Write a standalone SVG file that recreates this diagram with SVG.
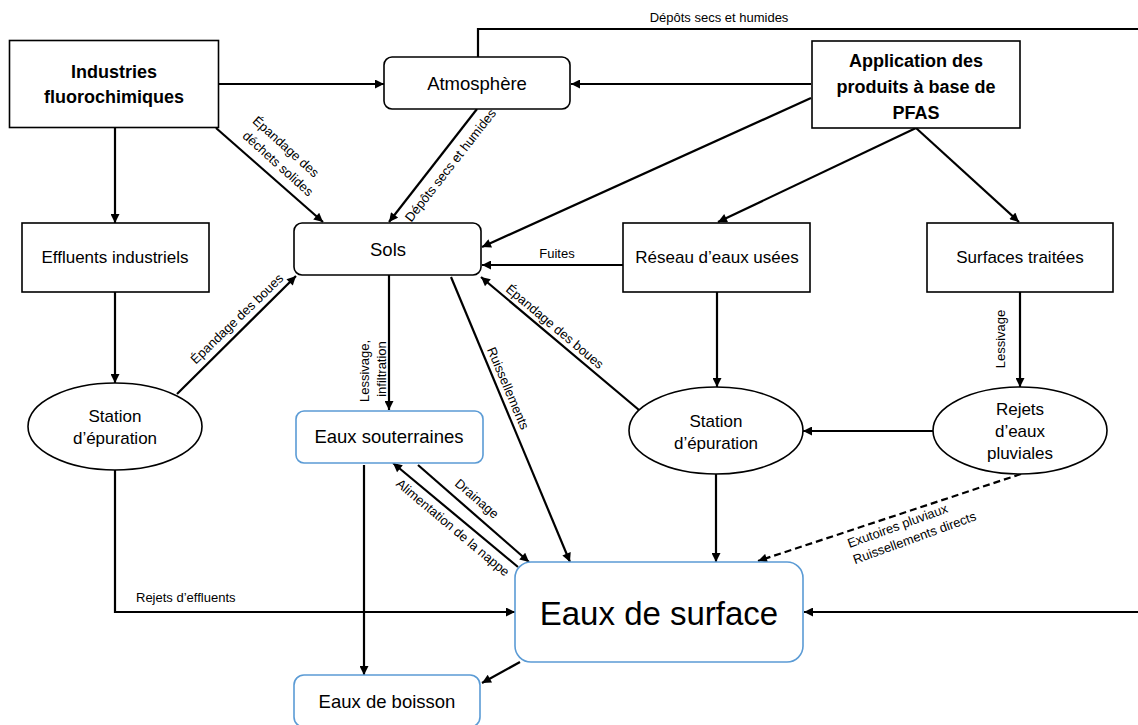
<svg xmlns="http://www.w3.org/2000/svg" width="1138" height="725" viewBox="0 0 1138 725">
<defs>
<marker id="ah" markerUnits="userSpaceOnUse" viewBox="0 0 10 10" refX="10" refY="5" markerWidth="11" markerHeight="9" orient="auto">
<path d="M0,0 L10,5 L0,10 z" fill="#000"/>
</marker>
<style>
.box{fill:#fff;stroke:#000;stroke-width:1.6}
.rbox{fill:#fff;stroke:#000;stroke-width:1.6}
.bbox{fill:#fff;stroke:#5B9BD5;stroke-width:1.6}
.t{font-family:"Liberation Sans",Arial,sans-serif;font-size:17px;fill:#000;text-anchor:middle}
.tr{font-family:"Liberation Sans",Arial,sans-serif;font-size:18.5px;fill:#000;text-anchor:middle}
.tb{font-family:"Liberation Sans",Arial,sans-serif;font-size:18px;font-weight:bold;fill:#000;text-anchor:middle}
.lb{font-family:"Liberation Sans",Arial,sans-serif;font-size:13px;fill:#000;text-anchor:middle}
.c{fill:none;stroke:#000;stroke-width:2.2;marker-end:url(#ah)}
.d{stroke-dasharray:7,4}
</style>
</defs>
<rect width="1138" height="725" fill="#fff"/>
<g id="connectors">
<path class="c" d="M219,84 H384"/>
<path class="c" d="M811,84 H571"/>
<path class="c" d="M478,57 V29 H1145 V612 H804"/>
<path class="c" d="M115,127 V223"/>
<path class="c" d="M216,128 L323,222"/>
<path class="c" d="M477,109 L389,222"/>
<path class="c" d="M811,98 L482,247"/>
<path class="c" d="M916,128 L718,222"/>
<path class="c" d="M916,128 L1019,222"/>
<path class="c" d="M115,292 V383"/>
<path class="c" d="M177,394 L296,276"/>
<path class="c" d="M115,470 V612 H515"/>
<path class="c" d="M623,265 H482"/>
<path class="c" d="M639,410 L481,277"/>
<path class="c" d="M389,275 V410"/>
<path class="c" d="M451,277 L570,562"/>
<path class="c" d="M717,292 V387"/>
<path class="c" d="M1020,292 V387"/>
<path class="c" d="M933,431 H803"/>
<path class="c" d="M716,474 V562"/>
<path class="c d" d="M1021,474 L758,561"/>
<path class="c" d="M364,465 V675"/>
<path class="c" d="M418,465 L529,562"/>
<path class="c" d="M518,567 L393,463"/>
<path class="c" d="M520,662 L482,683"/>
<text class="lb" x="719" y="22">Dépôts secs et humides</text>
<text class="lb" transform="translate(283,150) rotate(42)">Épandage des</text>
<text class="lb" transform="translate(275,167) rotate(42)">déchets solides</text>
<text class="lb" transform="translate(454,168) rotate(-52)">Dépôts secs et humides</text>
<text class="lb" transform="translate(240,322) rotate(-44)">Épandage des boues</text>
<text class="lb" transform="translate(552,330) rotate(40)">Épandage des boues</text>
<text class="lb" x="557" y="258">Fuites</text>
<text class="lb" transform="translate(504,390) rotate(67)">Ruissellements</text>
<text class="lb" transform="translate(369,371) rotate(-90)">Lessivage,</text>
<text class="lb" transform="translate(386,369) rotate(-90)">infiltration</text>
<text class="lb" transform="translate(1005,339) rotate(-90)">Lessivage</text>
<text class="lb" transform="translate(474,502) rotate(41)">Drainage</text>
<text class="lb" transform="translate(450,531) rotate(40)">Alimentation de la nappe</text>
<text class="lb" transform="translate(899,530) rotate(-20)">Exutoires pluviaux</text>
<text class="lb" transform="translate(916,542) rotate(-20)">Ruissellements directs</text>
<text class="lb" x="136" y="602" style="text-anchor:start">Rejets d’effluents</text>
</g>
<g id="industries">
<rect class="box" x="9.5" y="40.5" width="209" height="87"/>
<text class="tb" x="114" y="78">Industries</text>
<text class="tb" x="114" y="103">fluorochimiques</text>
</g>
<g id="atmosphere">
<rect class="rbox" x="384" y="57" width="186" height="52" rx="8"/>
<text class="tr" x="477" y="90">Atmosphère</text>
</g>
<g id="application">
<rect class="box" x="812" y="41" width="208" height="87"/>
<text class="tb" x="916" y="67">Application des</text>
<text class="tb" x="916" y="93">produits à base de</text>
<text class="tb" x="916" y="119">PFAS</text>
</g>
<g id="effluents">
<rect class="box" x="22" y="223" width="187" height="69"/>
<text class="t" x="115" y="263">Effluents industriels</text>
</g>
<g id="sols">
<rect class="rbox" x="294" y="223" width="187" height="52" rx="8"/>
<text class="tr" x="388" y="256">Sols</text>
</g>
<g id="reseau">
<rect class="box" x="623" y="223" width="187" height="69"/>
<text class="t" x="717" y="263">Réseau d’eaux usées</text>
</g>
<g id="surfaces">
<rect class="box" x="927" y="223" width="186" height="69"/>
<text class="t" x="1020" y="263">Surfaces traitées</text>
</g>
<g id="station-gauche">
<ellipse class="box" cx="115" cy="426.5" rx="87" ry="43.5"/>
<text class="t" x="115" y="422">Station</text>
<text class="t" x="115" y="444">d’épuration</text>
</g>
<g id="station-droite">
<ellipse class="box" cx="716" cy="430.5" rx="87" ry="43.5"/>
<text class="t" x="716" y="427">Station</text>
<text class="t" x="716" y="449">d’épuration</text>
</g>
<g id="rejets-pluviales">
<ellipse class="box" cx="1020" cy="430.5" rx="87" ry="43.5"/>
<text class="t" x="1020" y="415">Rejets</text>
<text class="t" x="1020" y="437">d’eaux</text>
<text class="t" x="1020" y="459">pluviales</text>
</g>
<g id="eaux-souterraines">
<rect class="bbox" x="296" y="411" width="187" height="52" rx="8"/>
<text class="tr" x="389" y="443">Eaux souterraines</text>
</g>
<g id="eaux-surface">
<rect class="bbox" x="515" y="562" width="288" height="100" rx="16"/>
<text class="tr" x="659" y="625" style="font-size:33px">Eaux de surface</text>
</g>
<g id="eaux-boisson">
<rect class="bbox" x="294" y="675" width="186" height="52" rx="10"/>
<text class="tr" x="387" y="708">Eaux de boisson</text>
</g>
</svg>
